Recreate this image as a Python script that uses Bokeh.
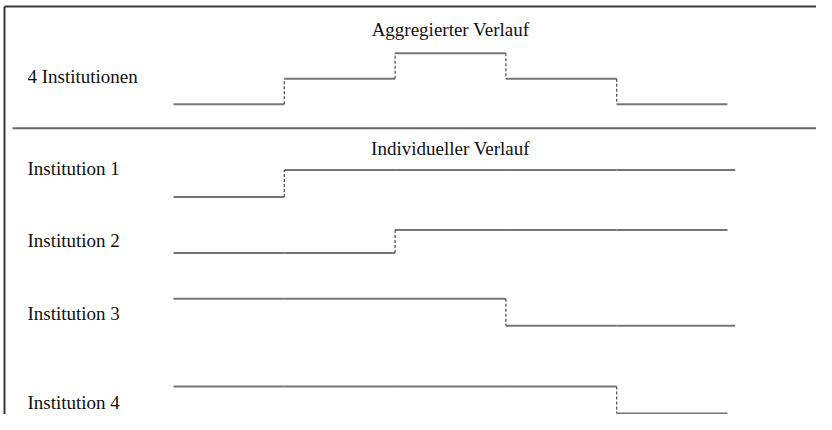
from bokeh.plotting import figure
from bokeh.models import Range1d, Label
from bokeh.embed import file_html
from bokeh.resources import INLINE

# ---- data ----
periods = [0, 1, 2, 3, 4, 5]                 # step boundaries (time units)
aggregate = [1, 2, 3, 2, 1]                  # aggregated course (4 institutions)
aggregate_end = 5.0
inst_names = ["Institution 1", "Institution 2", "Institution 3", "Institution 4"]
inst_levels = [
    [0, 1, 1, 1, 1],
    [0, 0, 1, 1, 1],
    [1, 1, 1, 0, 0],
    [1, 1, 1, 1, 0],
]
inst_end = [5.07, 5.0, 5.07, 5.0]
title_agg = "Aggregierter Verlauf"
title_ind = "Individueller Verlauf"
label_agg = "4 Institutionen"

# ---- layout ----
W, H = 816, 414
PX = 110.8          # pixels per time unit
X0 = 173            # x of t=0
p = figure(width=W, height=H, output_backend="svg", toolbar_location=None,
           x_range=Range1d(-X0 / PX, (W - X0) / PX),
           y_range=Range1d(415, 0), min_border=0)
p.axis.visible = False
p.grid.visible = False
p.outline_line_color = None
p.background_fill_color = "white"
p.border_fill_color = "white"

LINE = "#777777"
DASH = "#4a4a4a"
FONT = "Liberation Serif"
FS = "19px"
TXT = "#111111"


def draw_steps(levels, end, y_low, step):
    lo = min(levels)
    ys = [y_low - (lv - lo) * step for lv in levels]
    x0 = periods[:len(levels)]
    x1 = periods[1:len(levels)] + [end]
    p.segment(x0=x0, y0=ys, x1=x1, y1=ys, line_color=LINE, line_width=2)
    vx, vy0, vy1 = [], [], []
    for i in range(1, len(levels)):
        if levels[i] != levels[i - 1]:
            vx.append(periods[i])
            vy0.append(ys[i - 1])
            vy1.append(ys[i])
    if vx:
        p.segment(x0=vx, y0=vy0, x1=vx, y1=vy1, line_color=DASH,
                  line_width=1.2, line_dash="3 2")


# aggregated row
draw_steps(aggregate, aggregate_end, 104, 25.5)

# individual rows
row_low = [197, 253, 326, 414]
row_step = [27, 23, 27, 27]
label_y = [168, 241, 314, 403]
for lv, e, yl, st in zip(inst_levels, inst_end, row_low, row_step):
    draw_steps(lv, e, yl, st)

# labels
def lab(text, x, y, units="screen", align="left"):
    p.add_layout(Label(x=x, y=y, x_units=units, text=text, text_font=FONT,
                       text_font_size=FS, text_color=TXT, text_align=align,
                       text_baseline="middle"))

lab(title_agg, 2.5, 29, units="data", align="center")
lab(label_agg, 27, 76)
lab(title_ind, 2.5, 148, units="data", align="center")
for name, y in zip(inst_names, label_y):
    lab(name, 27, y)

# separator and frame borders (decoration)
xs0 = p.x_range.start
xs1 = p.x_range.end
sx = xs0 + 12 / PX
p.segment(x0=[sx], y0=[128], x1=[xs1], y1=[128], line_color="#6a6a6a", line_width=2)
bx = xs0 + 4 / PX
p.segment(x0=[bx, bx], y0=[6, 6], x1=[xs1, bx], y1=[6, 416],
          line_color="#3a3a3a", line_width=2)

open("out.html", "w").write(file_html(p, INLINE))
